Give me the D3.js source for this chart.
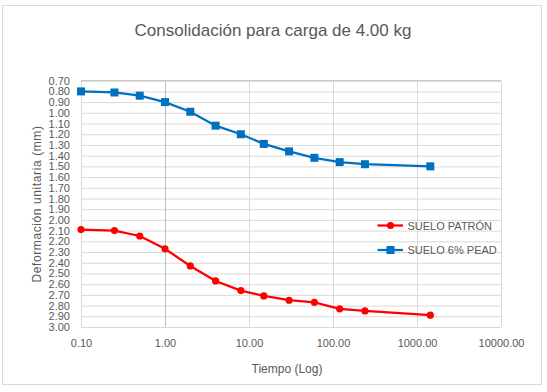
<!DOCTYPE html>
<html>
<head>
<meta charset="utf-8">
<script src="https://cdn.jsdelivr.net/npm/d3@7"></script>
<style>
  body { margin: 0; background: #fff; }
  text { font-family: "Liberation Sans", Arial, sans-serif; fill: #595959; }
</style>
</head>
<body>
<svg id="chart" width="547" height="392"></svg>
<script>
// tiempos (min) y deformaciones
var tiempo = [0.1, 0.25, 0.5, 1, 2, 4, 8, 15, 30, 60, 120, 240, 1440];
var patron = [2.09, 2.10, 2.15, 2.27, 2.43, 2.57, 2.66, 2.71, 2.75, 2.77, 2.83, 2.85, 2.89];
var pead   = [0.80, 0.81, 0.84, 0.90, 0.99, 1.12, 1.20, 1.29, 1.36, 1.42, 1.46, 1.48, 1.50];
var xTicks = [0.1, 1, 10, 100, 1000, 10000];
var yMin = 0.7, yMax = 3.0;
var seriesNames = ["SUELO PATRÓN", "SUELO 6% PEAD"];

var svg = d3.select("#chart");

var x = d3.scaleLog().domain([0.1, 10000]).range([81, 501]);
var y = d3.scaleLinear().domain([yMin, yMax]).range([80.7, 327]);

var yTicks = d3.range(0, 24).map(function(i) { return +(yMin + i * 0.1).toFixed(2); });

// chart border
svg.append("rect")
  .attr("x", 2.5).attr("y", 5.5)
  .attr("width", 539).attr("height", 379)
  .attr("fill", "#fff")
  .attr("stroke", "#d9d9d9");

// gridlines
svg.append("g")
  .attr("transform", "translate(0,0)")
  .call(d3.axisLeft(y).tickValues(yTicks).tickSize(-(x.range()[1] - x.range()[0])).tickFormat(""))
  .attr("transform", "translate(" + x.range()[0] + ",0)")
  .call(function(g) {
    g.select(".domain").remove();
    g.selectAll("line").attr("stroke", "#d9d9d9");
  });

svg.append("g")
  .attr("transform", "translate(0," + y.range()[1] + ")")
  .call(d3.axisBottom(x).tickValues(xTicks).tickSize(-(y.range()[1] - y.range()[0])).tickFormat(""))
  .call(function(g) {
    g.select(".domain").remove();
    g.selectAll("line").attr("stroke", function(d) { return d === 1 ? "#bfbfbf" : "#d9d9d9"; });
  });

// top axis line (reversed values)
svg.append("line")
  .attr("x1", x.range()[0]).attr("x2", x.range()[1])
  .attr("y1", y(yMin)).attr("y2", y(yMin))
  .attr("stroke", "#bfbfbf");

// tick labels
svg.append("g")
  .attr("transform", "translate(" + x.range()[0] + ",0)")
  .call(d3.axisLeft(y).tickValues(yTicks).tickSize(0).tickPadding(11).tickFormat(d3.format(".2f")))
  .call(function(g) {
    g.select(".domain").remove();
    g.selectAll("text").attr("font-size", 11).style("font-family", "Liberation Sans").attr("fill", "#595959");
  });

svg.append("g")
  .attr("transform", "translate(0," + y.range()[1] + ")")
  .call(d3.axisBottom(x).tickValues(xTicks).tickSize(0).tickPadding(12).tickFormat(d3.format(".2f")))
  .call(function(g) {
    g.select(".domain").remove();
    g.selectAll("text").attr("font-size", 11).style("font-family", "Liberation Sans").attr("fill", "#595959");
  });

// title
svg.append("text")
  .attr("x", 273).attr("y", 36)
  .attr("text-anchor", "middle")
  .attr("font-size", 17)
  .text("Consolidación para carga de 4.00 kg");

svg.append("text")
  .attr("x", 287).attr("y", 373)
  .attr("text-anchor", "middle")
  .attr("font-size", 12)
  .text("Tiempo (Log)");

svg.append("text")
  .attr("transform", "translate(41,204) rotate(-90)")
  .attr("text-anchor", "middle")
  .attr("font-size", 12)
  .attr("letter-spacing", 0.6)
  .text("Deformación unitaria (mm)");

// series
var line = d3.line()
  .x(function(d) { return x(d[0]); })
  .y(function(d) { return y(d[1]); });

var redData = tiempo.map(function(t, i) { return [t, patron[i]]; });
var blueData = tiempo.map(function(t, i) { return [t, pead[i]]; });

svg.append("path")
  .datum(redData)
  .attr("fill", "none")
  .attr("stroke", "#ff0000")
  .attr("stroke-width", 2.25)
  .attr("d", line);

svg.append("g").selectAll("circle")
  .data(redData)
  .enter().append("circle")
    .attr("cx", function(d) { return x(d[0]); })
    .attr("cy", function(d) { return y(d[1]); })
    .attr("r", 3.6)
    .attr("fill", "#ff0000");

svg.append("path")
  .datum(blueData)
  .attr("fill", "none")
  .attr("stroke", "#0070c0")
  .attr("stroke-width", 2.25)
  .attr("d", line);

svg.append("g").selectAll("rect")
  .data(blueData)
  .enter().append("rect")
    .attr("x", function(d) { return x(d[0]) - 4; })
    .attr("y", function(d) { return y(d[1]) - 4; })
    .attr("width", 8)
    .attr("height", 8)
    .attr("fill", "#0070c0");

// legend
var legend = svg.append("g").attr("class", "legend");
var legColors = ["#ff0000", "#0070c0"];
seriesNames.forEach(function(name, i) {
  var ly = 225.5 + i * 24.5;
  legend.append("line")
    .attr("x1", 377.5).attr("x2", 403)
    .attr("y1", ly).attr("y2", ly)
    .attr("stroke", legColors[i])
    .attr("stroke-width", 2.25);
  if (i === 0) {
    legend.append("circle").attr("cx", 390.5).attr("cy", ly).attr("r", 3.6).attr("fill", legColors[i]);
  } else {
    legend.append("rect").attr("x", 386.5).attr("y", ly - 4).attr("width", 8).attr("height", 8).attr("fill", legColors[i]);
  }
  legend.append("text")
    .attr("x", 407.5).attr("y", ly + 4)
    .attr("font-size", 11)
    .text(name);
});
</script>
</body>
</html>
